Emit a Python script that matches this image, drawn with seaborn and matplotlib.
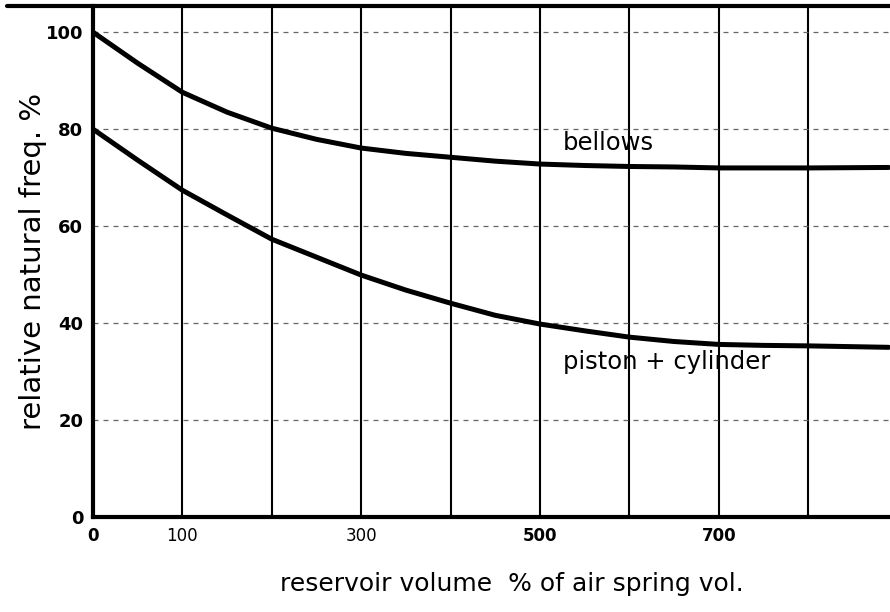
import matplotlib
matplotlib.use("Agg")
import matplotlib.pyplot as plt
from matplotlib.lines import Line2D
import seaborn as sns
import pandas as pd

# Reservoir volume (% of air spring volume) and relative natural frequency (%)
volume = [0, 50, 100, 150, 200, 250, 300, 350, 400, 450, 500, 550, 600, 650, 700, 750, 800, 890]
bellows = [100, 93.6, 87.6, 83.5, 80.2, 77.9, 76.1, 75.0, 74.2, 73.4, 72.8, 72.5,
           72.3, 72.2, 72.0, 72.0, 72.0, 72.1]
piston_cylinder = [80, 73.6, 67.4, 62.3, 57.3, 53.6, 49.9, 46.8, 44.1, 41.6, 39.8, 38.4,
                   37.1, 36.2, 35.6, 35.4, 35.3, 35.0]

x_ticks = [0, 100, 200, 300, 400, 500, 600, 700, 800]
x_tick_labels = ["0", "100", "", "300", "", "500", "", "700", ""]
x_tick_bold = [True, False, False, False, False, True, False, True, False]
y_ticks = [0, 20, 40, 60, 80, 100]
y_tick_labels = ["0", "20", "40", "60", "80", "100"]

df = pd.DataFrame({
    "volume": volume * 2,
    "freq": bellows + piston_cylinder,
    "kind": ["bellows"] * len(volume) + ["piston + cylinder"] * len(volume),
})

sns.set_style("white")
plt.rcParams["font.family"] = ["DejaVu Sans"]
plt.rcParams["text.color"] = "black"
plt.rcParams["axes.labelcolor"] = "black"
plt.rcParams["xtick.color"] = "black"
plt.rcParams["ytick.color"] = "black"

fig = plt.figure(figsize=(8.9, 6.12), dpi=100)
ax = fig.add_axes([0.1045, 0.1552, 0.8955, 0.8350])

# grid: solid verticals, faint dotted horizontals
for xv in x_ticks[1:]:
    ax.axvline(xv, color="black", lw=1.5, zorder=1)
for yv in y_ticks[1:]:
    ax.axhline(yv, color="#666666", lw=0.9, ls=(0, (4, 4)), zorder=1)

sns.lineplot(data=df, x="volume", y="freq", hue="kind",
             palette=["black", "black"], linewidth=3.6, legend=False,
             ax=ax, zorder=3, solid_joinstyle="round", solid_capstyle="round")

ax.set_xlim(0, 891.5)
ax.set_ylim(0, 105.4)

ax.set_xticks(x_ticks)
ax.set_xticklabels(x_tick_labels, fontsize=12)
for lbl, b in zip(ax.get_xticklabels(), x_tick_bold):
    lbl.set_fontweight("bold" if b else "normal")
ax.set_yticks(y_ticks)
ax.set_yticklabels(y_tick_labels, fontsize=13, fontweight="bold")
ax.tick_params(axis="both", direction="out", length=4, width=1.5,
               color="black", pad=3)

for side in ["left", "bottom"]:
    ax.spines[side].set_linewidth(3)
    ax.spines[side].set_color("black")
ax.spines["right"].set_visible(False)
ax.spines["top"].set_visible(False)

# heavy top border running across the sheet
fig.add_artist(Line2D([0.008, 1.0], [0.9902, 0.9902], color="black", lw=3))

ax.set_xlabel("reservoir volume  % of air spring vol.", fontsize=18)
ax.set_ylabel("relative natural freq. %", fontsize=21)
ax.xaxis.set_label_coords(0.526, -0.108)
ax.yaxis.set_label_coords(-0.058, 0.50)

ax.text(526, 74.6, "bellows", fontsize=17.5, ha="left", va="bottom")
ax.text(526, 29.6, "piston + cylinder", fontsize=17.5, ha="left", va="bottom")

fig.savefig("out.png", dpi=100)
